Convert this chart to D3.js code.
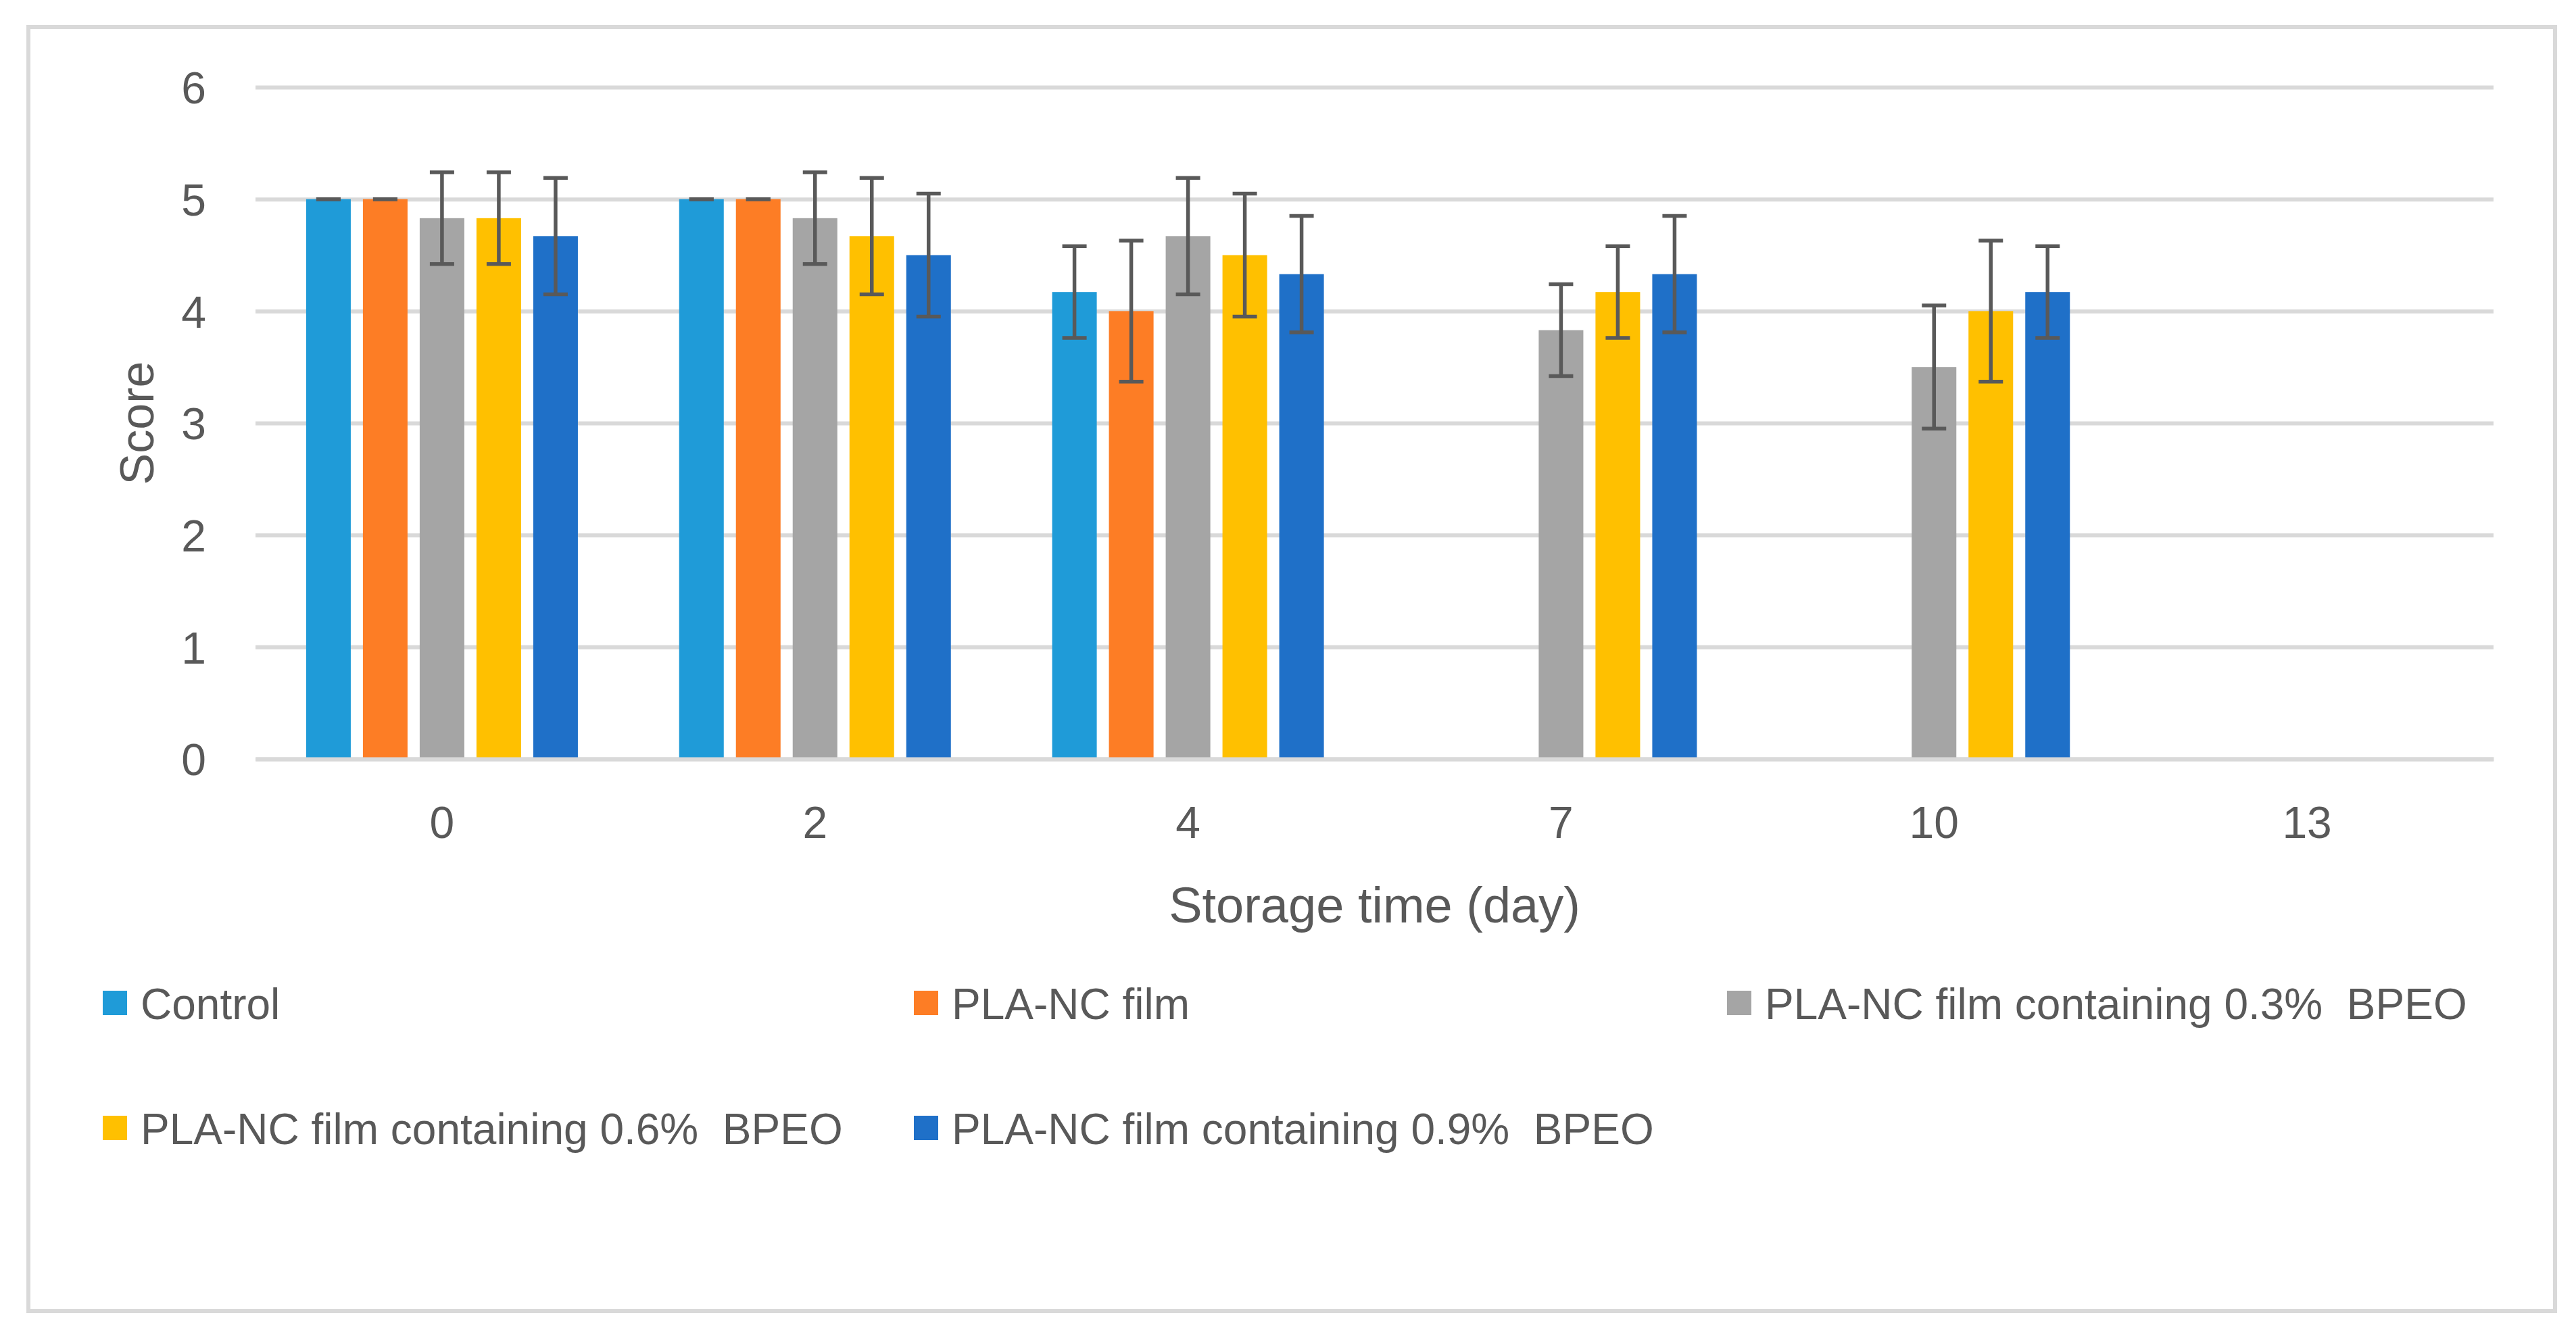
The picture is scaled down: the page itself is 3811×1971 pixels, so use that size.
<!DOCTYPE html>
<html>
<head>
<meta charset="utf-8">
<script src="https://cdn.jsdelivr.net/npm/d3@7"></script>
<style>
  body { margin: 0; background: #fff; }
  text { font-family: 'Liberation Sans', Arial, sans-serif; fill: #595959; }
</style>
</head>
<body>
<div id="chart"></div>
<script>
var days = ['0', '2', '4', '7', '10', '13']
var seriesNames = ['Control', 'PLA-NC film', 'PLA-NC film containing 0.3%  BPEO', 'PLA-NC film containing 0.6%  BPEO', 'PLA-NC film containing 0.9%  BPEO']
var colors = ['#1f9bd8', '#fd7d25', '#a5a5a5', '#ffc000', '#1f70c8']

// mean scores per series (null = no bar)
var control = [5, 5, 4.17, null, null, null]
var plaNc = [5, 5, 4.0, null, null, null]
var bpeo03 = [4.83, 4.83, 4.67, 3.83, 3.5, null]
var bpeo06 = [4.83, 4.67, 4.5, 4.17, 4.0, null]
var bpeo09 = [4.67, 4.5, 4.33, 4.33, 4.17, null]

// standard deviations (error bars)
var controlSd = [0, 0, 0.41, null, null, null]
var plaNcSd = [0, 0, 0.63, null, null, null]
var bpeo03Sd = [0.41, 0.41, 0.52, 0.41, 0.55, null]
var bpeo06Sd = [0.41, 0.52, 0.55, 0.41, 0.63, null]
var bpeo09Sd = [0.52, 0.55, 0.52, 0.52, 0.41, null]

var yTicks = [0, 1, 2, 3, 4, 5, 6]

var values = [control, plaNc, bpeo03, bpeo06, bpeo09]
var sds = [controlSd, plaNcSd, bpeo03Sd, bpeo06Sd, bpeo09Sd]

var w = 3811
var h = 1971
var left = 378
var right = 3689

var svg = d3.select('#chart').append('svg')
  .attr('width', w)
  .attr('height', h)
  .attr('viewBox', [0, 0, w, h].join(' '))

svg.append('rect')
  .attr('x', 42).attr('y', 40)
  .attr('width', 3738).attr('height', 1900)
  .attr('fill', '#fff')
  .attr('stroke', '#d9d9d9')
  .attr('stroke-width', 6)

var x0 = d3.scaleBand().domain(days).range([left, right])
var x1 = d3.scaleBand().domain(d3.range(seriesNames.length)).range([-210, 210])
  .paddingInner(0.214).paddingOuter(0.107)
var y = d3.scaleLinear().domain([0, 6]).range([1123, 129])

// gridlines + y tick labels
var yAxis = d3.axisLeft(y).tickValues(yTicks).tickFormat(d3.format('d'))
  .tickSize(-(right - left)).tickPadding(73)
var gy = svg.append('g').attr('transform', 'translate(' + left + ',0)').call(yAxis)
gy.select('.domain').remove()
gy.selectAll('.tick line').attr('stroke', '#d9d9d9').attr('stroke-width', 6)
gy.selectAll('.tick text')
  .style('font-size', '66px')
  .attr('dy', '0.36em')

// bars
values.forEach(function (series, si) {
  var g = svg.append('g')
  series.forEach(function (v, di) {
    if (v === null) return
    var cx = x0(days[di]) + x0.bandwidth() / 2
    g.append('rect')
      .attr('x', cx + x1(si))
      .attr('y', y(v))
      .attr('width', x1.bandwidth())
      .attr('height', y(0) - y(v))
      .attr('fill', colors[si])
  })
})

// x axis
var xAxis = d3.axisBottom(x0).tickSize(0).tickPadding(70)
var gx = svg.append('g').attr('transform', 'translate(0,' + y(0) + ')').call(xAxis)
gx.select('.domain').attr('stroke', '#d9d9d9').attr('stroke-width', 6)
gx.selectAll('.tick text').style('font-size', '66px').attr('dy', '0.71em')

// error bars
var cap = 18
sds.forEach(function (series, si) {
  var g = svg.append('g').attr('stroke', '#595959').attr('stroke-width', 5.5)
  series.forEach(function (sd, di) {
    var v = values[si][di]
    if (v === null || sd === null) return
    var cx = x0(days[di]) + x0.bandwidth() / 2 + x1(si) + x1.bandwidth() / 2
    if (sd > 0) {
      g.append('line').attr('x1', cx).attr('x2', cx).attr('y1', y(v + sd)).attr('y2', y(v - sd))
    }
    g.append('line').attr('x1', cx - cap).attr('x2', cx + cap).attr('y1', y(v + sd)).attr('y2', y(v + sd))
    g.append('line').attr('x1', cx - cap).attr('x2', cx + cap).attr('y1', y(v - sd)).attr('y2', y(v - sd))
  })
})

// axis titles
svg.append('text')
  .attr('x', (left + right) / 2)
  .attr('y', 1365)
  .attr('text-anchor', 'middle')
  .style('font-size', '74px')
  .text('Storage time (day)')

svg.append('text')
  .attr('transform', 'translate(227,' + (y(3)) + ') rotate(-90)')
  .attr('text-anchor', 'middle')
  .style('font-size', '70px')
  .text('Score')

// legend
var legendX = [152, 1352, 2555]
var legendY = [1508, 1693]
seriesNames.forEach(function (name, i) {
  var col = i % 3
  var row = Math.floor(i / 3)
  var g = svg.append('g').attr('transform', 'translate(' + legendX[col] + ',' + legendY[row] + ')')
  g.append('rect')
    .attr('x', 0).attr('y', -42)
    .attr('width', 36).attr('height', 36)
    .attr('fill', colors[i])
  g.append('text')
    .attr('x', 56)
    .attr('y', 0)
    .style('font-size', '64px')
    .style('white-space', 'pre')
    .attr('xml:space', 'preserve')
    .text(name)
})
</script>
</body>
</html>
